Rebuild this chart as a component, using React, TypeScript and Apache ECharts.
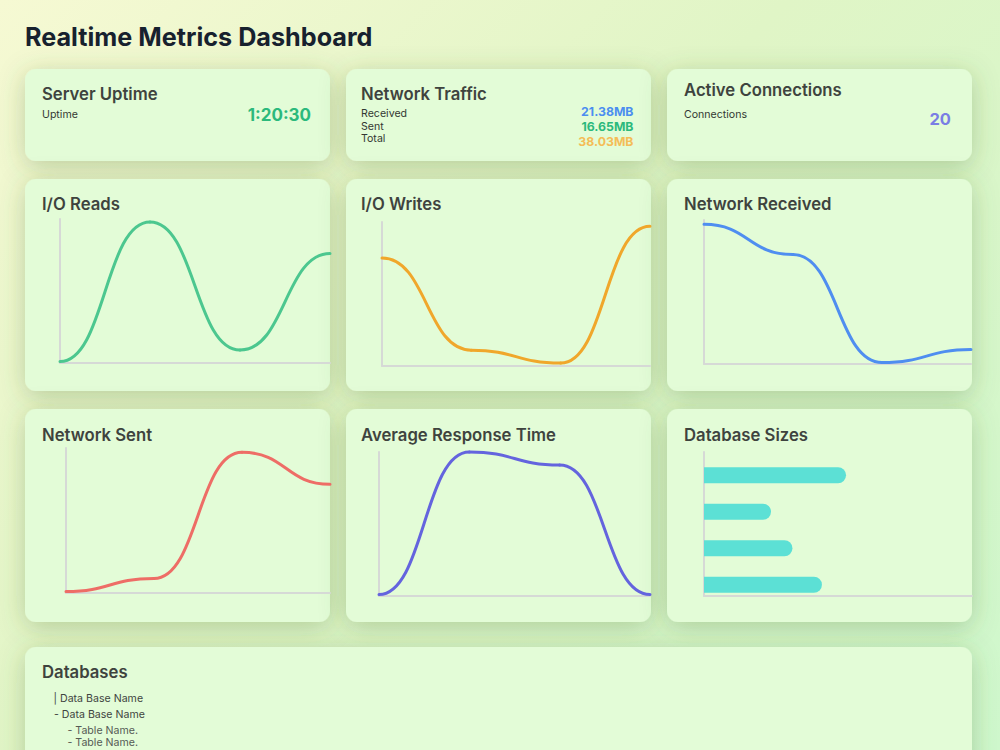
import React, { useEffect, useRef } from "react";
import * as echarts from "echarts";

// ---------- data ----------
const timeLabels = ["t1", "t2", "t3", "t4"];
const ioReads = [1, 98, 9, 76];
const ioWrites = [75, 11, 2, 97];
const netReceived = [97, 76, 1, 10];
const netSent = [1, 10, 97, 75];
const avgResponse = [1, 100, 91, 1];
const dbNames = ["Database A", "Database B", "Database C", "Database D"];
const dbSizes = [53, 25, 33, 44];

const uptimeValue = "1:20:30";
const trafficLabels = ["Received", "Sent", "Total"];
const trafficValues = ["21.38MB", "16.65MB", "38.03MB"];
const activeConnections = 20;
const treeLines = ["| Data Base Name", "- Data Base Name", "- Table Name.", "- Table Name."];

// ---------- layout / style ----------
const FONT = "Inter, 'Noto Sans', sans-serif";
const TITLE_COLOR = "#3e433e";
const CARD_FILL = "#e3fcd7";
const AXIS_COLOR = "#d6d9d6";
const TITLE_FONT = `600 16.7px ${FONT}`;
const SMALL_FONT = `400 10.6px ${FONT}`;

const cards = [
  { x: 25, y: 69, w: 305, h: 92 },
  { x: 346, y: 69, w: 305, h: 92 },
  { x: 667, y: 69, w: 305, h: 92 },
  { x: 25, y: 179, w: 305, h: 212 },
  { x: 346, y: 179, w: 305, h: 212 },
  { x: 667, y: 179, w: 305, h: 212 },
  { x: 25, y: 409, w: 305, h: 213 },
  { x: 346, y: 409, w: 305, h: 213 },
  { x: 667, y: 409, w: 305, h: 213 },
  { x: 25, y: 647, w: 947, h: 140 },
];

const lineCharts = [
  { title: "I/O Reads", data: ioReads, color: "#4cc78f", grid: { left: 60, top: 219, width: 270, height: 144 }, tx: 42, ty: 203.5 },
  { title: "I/O Writes", data: ioWrites, color: "#f0a72b", grid: { left: 382, top: 222, width: 268, height: 144 }, tx: 361, ty: 203.5 },
  { title: "Network Received", data: netReceived, color: "#4f8ef0", grid: { left: 704, top: 220, width: 267, height: 144 }, tx: 684, ty: 203.5 },
  { title: "Network Sent", data: netSent, color: "#ee6d66", grid: { left: 66, top: 448, width: 264, height: 145 }, tx: 42, ty: 434.5 },
  { title: "Average Response Time", data: avgResponse, color: "#6464de", grid: { left: 379, top: 452, width: 271, height: 144 }, tx: 361, ty: 434.5 },
];

function txt(text: string, x: number, y: number, font: string, fill: string, align: string = "left") {
  return {
    type: "text",
    z: 100,
    style: { text, x, y, font, fill, textAlign: align, textVerticalAlign: "middle" },
  };
}

export default function App() {
  const ref = useRef<HTMLDivElement>(null);

  useEffect(() => {
    const chart = echarts.init(ref.current!, undefined, { renderer: "svg", width: 1000, height: 750 });

    const axisLine = { show: true, lineStyle: { color: AXIS_COLOR, width: 2 } };
    const grids: any[] = [];
    const xAxes: any[] = [];
    const yAxes: any[] = [];
    const series: any[] = [];

    lineCharts.forEach((c, i) => {
      grids.push({ ...c.grid, containLabel: false });
      xAxes.push({
        type: "category",
        gridIndex: i,
        data: timeLabels,
        boundaryGap: false,
        axisLine,
        axisTick: { show: false },
        axisLabel: { show: false },
        splitLine: { show: false },
      });
      yAxes.push({
        type: "value",
        gridIndex: i,
        min: 0,
        max: 100,
        axisLine,
        axisTick: { show: false },
        axisLabel: { show: false },
        splitLine: { show: false },
      });
      // bump-style smooth line: each segment is a cubic with horizontal tangents at both data points
      const segs = c.data.slice(0, -1).map((v, k) => [k, v, k + 1, c.data[k + 1]]);
      series.push({
        type: "custom",
        name: c.title,
        xAxisIndex: i,
        yAxisIndex: i,
        data: segs,
        encode: { x: [0, 2], y: [1, 3] },
        renderItem: (params: any, api: any) => {
          const p0 = api.coord([api.value(0), api.value(1)]);
          const p1 = api.coord([api.value(2), api.value(3)]);
          const mx = (p0[0] + p1[0]) / 2;
          return {
            type: "bezierCurve",
            shape: { x1: p0[0], y1: p0[1], x2: p1[0], y2: p1[1], cpx1: mx, cpy1: p0[1], cpx2: mx, cpy2: p1[1] },
            style: { stroke: c.color, lineWidth: 3, fill: null, lineCap: "round" },
          };
        },
      });
    });

    // Database sizes: visible axes grid (5) + bars grid (6)
    grids.push({ left: 704, top: 452, width: 268, height: 144 });
    xAxes.push({
      type: "value", gridIndex: 5, min: 0, max: 100,
      axisLine, axisTick: { show: false }, axisLabel: { show: false }, splitLine: { show: false },
    });
    yAxes.push({
      type: "category", gridIndex: 5, data: dbNames, inverse: true,
      axisLine, axisTick: { show: false }, axisLabel: { show: false }, splitLine: { show: false },
    });
    grids.push({ left: 704, top: 457, width: 268, height: 146 });
    xAxes.push({ type: "value", gridIndex: 6, min: 0, max: 100, show: false });
    yAxes.push({ type: "category", gridIndex: 6, data: dbNames, inverse: true, show: false });
    series.push({
      type: "bar",
      name: "Database Sizes",
      xAxisIndex: 6,
      yAxisIndex: 6,
      data: dbSizes,
      barWidth: 16,
      itemStyle: { color: "#5ce0d5", borderRadius: [0, 8, 8, 0] },
    });

    const elements: any[] = [];
    cards.forEach((c) => {
      elements.push({
        type: "rect",
        z: 0,
        shape: { x: c.x, y: c.y, width: c.w, height: c.h, r: 11 },
        style: {
          fill: CARD_FILL,
          shadowBlur: 26,
          shadowColor: "rgba(70,110,40,0.30)",
          shadowOffsetY: 5,
        },
      });
    });

    elements.push(txt("Realtime Metrics Dashboard", 25, 37, `700 25.2px ${FONT}`, "#17212e"));

    // Server uptime
    elements.push(txt("Server Uptime", 42, 94.2, TITLE_FONT, TITLE_COLOR));
    elements.push(txt("Uptime", 42, 114.7, SMALL_FONT, "#333833"));
    elements.push(txt(uptimeValue, 311, 115, `700 17px ${FONT}`, "#2cb97c", "right"));

    // Network traffic
    elements.push(txt("Network Traffic", 361, 94.2, TITLE_FONT, TITLE_COLOR));
    const labelYs = [113.7, 126.3, 138.8];
    const valueYs = [111.7, 126.8, 141.8];
    const valueColors = ["#4b8ef0", "#2cb97c", "#f4bd57"];
    trafficLabels.forEach((l, i) => elements.push(txt(l, 361, labelYs[i], SMALL_FONT, "#333833")));
    trafficValues.forEach((v, i) =>
      elements.push(txt(v, 633.5, valueYs[i], `700 12.3px ${FONT}`, valueColors[i], "right"))
    );

    // Active connections
    elements.push(txt("Active Connections", 684, 89.9, TITLE_FONT, TITLE_COLOR));
    elements.push(txt("Connections", 684, 114.7, SMALL_FONT, "#333833"));
    elements.push(txt(String(activeConnections), 951, 119.3, `700 16.5px ${FONT}`, "#7a7ee4", "right"));

    // chart titles
    lineCharts.forEach((c) => elements.push(txt(c.title, c.tx, c.ty, TITLE_FONT, TITLE_COLOR)));
    elements.push(txt("Database Sizes", 684, 434.5, TITLE_FONT, TITLE_COLOR));

    // Databases
    elements.push(txt("Databases", 42, 672, TITLE_FONT, TITLE_COLOR));
    const treeX = [53.5, 54, 67.5, 67.5];
    const treeY = [698.2, 714.8, 730.3, 742.5];
    const treeColor = ["#3f443f", "#3f443f", "#555a55", "#555a55"];
    treeLines.forEach((t, i) => elements.push(txt(t, treeX[i], treeY[i], SMALL_FONT, treeColor[i])));

    chart.setOption({
      animation: false,
      backgroundColor: "transparent",
      grid: grids,
      xAxis: xAxes,
      yAxis: yAxes,
      series,
      graphic: { elements },
    });

    return () => chart.dispose();
  }, []);

  return (
    <div
      ref={ref}
      style={{
        position: "fixed",
        left: 0,
        top: 0,
        width: 1000,
        height: 750,
        background: "linear-gradient(135deg, #f6f9d3 0%, #e0f5c6 45%, #cff8cd 100%)",
      }}
    />
  );
}
